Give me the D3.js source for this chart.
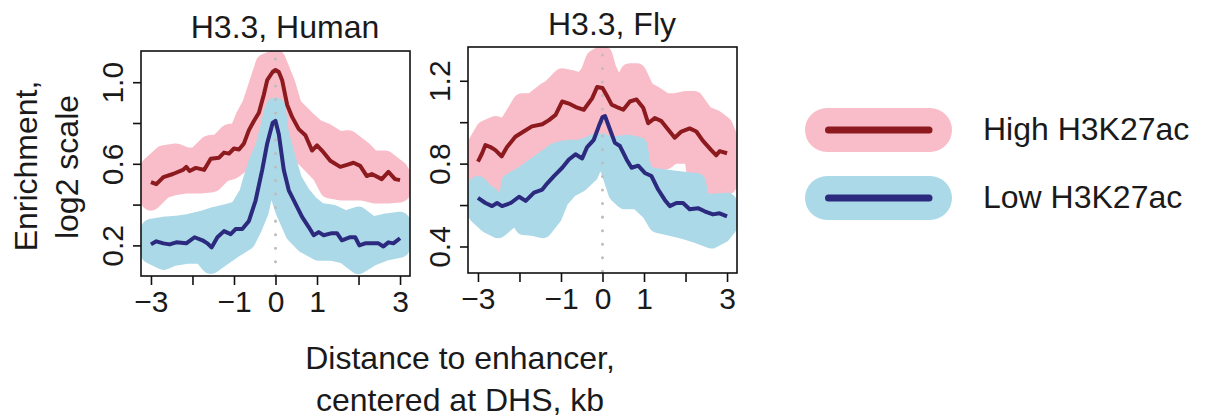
<!DOCTYPE html>
<html>
<head>
<meta charset="utf-8">
<script src="https://cdn.jsdelivr.net/npm/d3@7"></script>
<style>
    html, body { margin: 0; padding: 0; background: #fff; }
    svg text { font-family: "Liberation Sans", Arial, Helvetica, sans-serif; fill: #1a1a1a; }
</style>
</head>
<body>
<svg id="chart" width="1207" height="417"></svg>
<script>
// x axis (kb from DHS centre)
var xTicks = [-3, -2, -1, 0, 1, 2, 3];
var xTickLabels = ['\u22123', '', '\u22121', '0', '1', '', '3'];

// Human panel
var humanYTicks = [0.2, 0.4, 0.6, 0.8, 1.0];
var humanYLabels = ['0.2', '', '0.6', '', '1.0'];
var humanHigh = [[-3,0.51],[-2.87,0.50],[-2.7,0.535],[-2.47,0.55],[-2.23,0.57],[-2.15,0.585],[-2.07,0.565],[-1.92,0.58],[-1.72,0.57],[-1.56,0.625],[-1.36,0.63],[-1.24,0.655],[-1.12,0.65],[-1.0,0.675],[-0.88,0.67],[-0.76,0.70],[-0.64,0.765],[-0.52,0.81],[-0.40,0.85],[-0.28,0.94],[-0.2,1.01],[-0.07,1.05],[0,1.06],[0.08,1.05],[0.16,1.01],[0.28,0.89],[0.4,0.83],[0.56,0.77],[0.72,0.74],[0.88,0.665],[1.0,0.69],[1.12,0.665],[1.32,0.615],[1.56,0.585],[1.72,0.595],[1.88,0.605],[2.04,0.59],[2.2,0.54],[2.32,0.55],[2.56,0.525],[2.72,0.56],[2.88,0.525],[3,0.52]];
var humanLow = [[-3,0.205],[-2.87,0.22],[-2.7,0.21],[-2.55,0.205],[-2.39,0.215],[-2.15,0.21],[-1.95,0.24],[-1.76,0.225],[-1.64,0.21],[-1.54,0.19],[-1.4,0.24],[-1.24,0.27],[-1.08,0.255],[-0.96,0.28],[-0.8,0.28],[-0.64,0.32],[-0.48,0.42],[-0.32,0.57],[-0.2,0.70],[-0.07,0.80],[0,0.81],[0.08,0.745],[0.2,0.57],[0.32,0.47],[0.48,0.405],[0.64,0.34],[0.8,0.29],[0.92,0.25],[1.04,0.265],[1.16,0.25],[1.36,0.26],[1.48,0.26],[1.6,0.225],[1.8,0.24],[1.92,0.24],[2.02,0.2],[2.16,0.21],[2.32,0.21],[2.48,0.21],[2.6,0.195],[2.72,0.215],[2.84,0.21],[3,0.235]];
var humanHighUpper = [[-3,0.635],[-2.7,0.69],[-2.4,0.70],[-2.15,0.68],[-1.9,0.68],[-1.6,0.74],[-1.36,0.745],[-1.12,0.795],[-0.88,0.80],[-0.72,0.88],[-0.56,0.94],[-0.4,1.04],[-0.24,1.14],[0,1.16],[0.24,1.04],[0.4,0.93],[0.72,0.865],[0.96,0.82],[1.2,0.80],[1.52,0.76],[1.76,0.765],[2.08,0.715],[2.32,0.665],[2.64,0.665],[2.96,0.615],[3,0.60]];
var humanHighLower = [[-3,0.37],[-2.7,0.43],[-2.45,0.445],[-2.15,0.455],[-1.76,0.455],[-1.52,0.46],[-1.28,0.51],[-1.04,0.525],[-0.8,0.56],[-0.64,0.56],[-0.5,0.62],[-0.3,0.75],[0,0.85],[0.24,0.72],[0.5,0.62],[0.72,0.585],[1.12,0.50],[1.3,0.43],[1.6,0.42],[2.1,0.42],[2.4,0.405],[2.7,0.405],[3,0.41]];
var humanLowUpper = [[-3,0.33],[-2.7,0.34],[-2.39,0.345],[-2.07,0.355],[-1.76,0.37],[-1.44,0.39],[-1.12,0.405],[-0.88,0.42],[-0.64,0.50],[-0.55,0.565],[-0.4,0.66],[-0.25,0.73],[-0.12,0.83],[-0.04,0.90],[0,0.925],[0.08,0.80],[0.24,0.68],[0.4,0.57],[0.6,0.50],[0.8,0.45],[1.04,0.41],[1.36,0.40],[1.68,0.37],[2.0,0.39],[2.32,0.34],[2.64,0.355],[3,0.365]];
var humanLowLower = [[-3,0.11],[-2.7,0.08],[-2.45,0.10],[-2.15,0.11],[-1.76,0.11],[-1.56,0.06],[-1.28,0.10],[-0.96,0.145],[-0.72,0.175],[-0.56,0.24],[-0.4,0.32],[-0.24,0.47],[-0.1,0.55],[0,0.47],[0.24,0.32],[0.48,0.21],[0.72,0.16],[1.04,0.125],[1.36,0.125],[1.68,0.11],[2.0,0.06],[2.32,0.10],[2.64,0.125],[3,0.14]];

// Fly panel
var flyYTicks = [0.4, 0.6, 0.8, 1.0, 1.2];
var flyYLabels = ['0.4', '', '0.8', '', '1.2'];
var flyHigh = [[-3,0.81],[-2.9,0.85],[-2.82,0.89],[-2.7,0.88],[-2.58,0.865],[-2.43,0.835],[-2.3,0.88],[-2.1,0.93],[-1.9,0.955],[-1.7,0.98],[-1.45,0.99],[-1.29,1.01],[-1.13,1.035],[-0.97,1.10],[-0.81,1.09],[-0.61,1.07],[-0.45,1.06],[-0.25,1.115],[-0.13,1.17],[0,1.165],[0.1,1.13],[0.22,1.085],[0.38,1.07],[0.5,1.06],[0.66,1.10],[0.82,1.11],[0.98,1.07],[1.1,0.995],[1.26,1.02],[1.42,1.005],[1.58,0.965],[1.74,0.925],[1.9,0.955],[2.1,0.97],[2.26,0.955],[2.42,0.91],[2.62,0.865],[2.74,0.84],[2.82,0.86],[3,0.85]];
var flyLow = [[-3,0.635],[-2.82,0.61],[-2.66,0.595],[-2.54,0.61],[-2.42,0.595],[-2.21,0.61],[-2.01,0.64],[-1.85,0.62],[-1.65,0.66],[-1.45,0.675],[-1.33,0.705],[-1.17,0.74],[-0.97,0.78],[-0.81,0.82],[-0.65,0.845],[-0.49,0.825],[-0.37,0.88],[-0.21,0.915],[-0.09,0.98],[0,1.025],[0.06,1.03],[0.18,0.965],[0.3,0.90],[0.42,0.885],[0.58,0.82],[0.7,0.78],[0.86,0.79],[1.02,0.755],[1.18,0.74],[1.34,0.675],[1.5,0.625],[1.62,0.595],[1.78,0.61],[1.94,0.61],[2.1,0.58],[2.3,0.585],[2.46,0.57],[2.66,0.555],[2.82,0.56],[3,0.545]];
var flyHighUpper = [[-3,0.945],[-2.81,1.01],[-2.57,1.03],[-2.33,1.01],[-2.17,1.06],[-1.93,1.14],[-1.69,1.14],[-1.37,1.19],[-1.21,1.21],[-0.97,1.26],[-0.73,1.25],[-0.49,1.235],[-0.29,1.285],[-0.17,1.35],[0,1.37],[0.1,1.30],[0.3,1.22],[0.5,1.21],[0.66,1.285],[0.82,1.285],[1.02,1.20],[1.2,1.18],[1.5,1.14],[1.75,1.14],[2.0,1.15],[2.2,1.15],[2.45,1.08],[2.7,1.06],[2.9,1.03],[3,0.98]];
var flyHighLower = [[-3,0.68],[-2.8,0.70],[-2.65,0.61],[-2.4,0.60],[-2.3,0.66],[-2.0,0.72],[-1.8,0.76],[-1.6,0.78],[-1.4,0.82],[-1.2,0.86],[-1.0,0.88],[-0.85,0.94],[-0.7,0.90],[-0.5,0.90],[-0.3,0.92],[0,0.93],[0.2,0.90],[0.5,0.90],[0.8,0.86],[1.0,0.77],[1.5,0.77],[1.7,0.80],[2.2,0.80],[2.3,0.66],[2.6,0.65],[3,0.65]];
var flyLowUpper = [[-3,0.74],[-2.85,0.705],[-2.72,0.69],[-2.65,0.60],[-2.3,0.60],[-2.2,0.755],[-1.93,0.785],[-1.69,0.82],[-1.37,0.865],[-1.13,0.90],[-0.97,0.91],[-0.81,0.915],[-0.57,0.915],[-0.33,0.93],[-0.17,0.945],[0,0.945],[0.2,0.92],[0.4,0.935],[0.6,0.94],[0.85,0.93],[0.95,0.80],[1.2,0.78],[1.6,0.77],[2.0,0.76],[2.25,0.755],[2.35,0.66],[2.6,0.655],[3,0.66]];
var flyLowLower = [[-3,0.51],[-2.76,0.465],[-2.52,0.44],[-2.28,0.48],[-2.04,0.51],[-1.88,0.455],[-1.64,0.45],[-1.45,0.44],[-1.21,0.50],[-1.05,0.58],[-0.81,0.635],[-0.57,0.66],[-0.33,0.705],[-0.17,0.785],[0,0.80],[0.14,0.755],[0.38,0.61],[0.54,0.58],[0.86,0.58],[1.18,0.52],[1.34,0.465],[1.66,0.45],[1.98,0.435],[2.3,0.415],[2.62,0.39],[2.86,0.415],[3,0.45]];

var legendLabels = ['High H3K27ac', 'Low H3K27ac'];

var COLORS = {
    high: '#8c1a1e',
    low: '#2b2a7e',
    highBand: '#f8bdc9',
    lowBand: '#acd9e7'
};
var BAND_HW = 10;

var svg = d3.select('#chart');

function drawPanel(p) {
    var x = d3.scaleLinear().domain([-3.24, 3.24]).range([p.left, p.right]);
    var y = d3.scaleLinear().domain(p.yDomain).range([p.bottom, p.top]);

    var clipId = 'clip_' + p.name;
    svg.append('clipPath').attr('id', clipId)
        .append('rect')
        .attr('x', p.left).attr('y', p.top)
        .attr('width', p.right - p.left).attr('height', p.bottom - p.top);

    var g = svg.append('g').attr('clip-path', 'url(#' + clipId + ')');

    // band = polygon of upper/lower edges, pulled in and re-grown with a fat round stroke
    var poly = d3.line().curve(d3.curveLinearClosed);
    function band(upper, lower, color) {
        var pts = upper.map(function(d) { return [x(d[0]), y(d[1]) + BAND_HW]; })
            .concat(lower.slice().reverse().map(function(d) { return [x(d[0]), y(d[1]) - BAND_HW]; }));
        g.append('path')
            .attr('d', poly(pts))
            .attr('fill', color)
            .attr('stroke', color)
            .attr('stroke-width', BAND_HW * 2)
            .attr('stroke-linejoin', 'round');
    }
    band(p.highUpper, p.highLower, COLORS.highBand);
    band(p.lowUpper, p.lowLower, COLORS.lowBand);

    // dotted centre line
    g.append('line')
        .attr('x1', x(0)).attr('x2', x(0))
        .attr('y1', p.top + 8).attr('y2', p.bottom)
        .attr('stroke', '#bdbdbd')
        .attr('stroke-width', 3)
        .attr('stroke-linecap', 'round')
        .attr('stroke-dasharray', '0.01 13.5');

    var line = d3.line()
        .x(function(d) { return x(d[0]); })
        .y(function(d) { return y(d[1]); });
    g.append('path').attr('d', line(p.high)).attr('fill', 'none')
        .attr('stroke', COLORS.high).attr('stroke-width', 4).attr('stroke-linejoin', 'round');
    g.append('path').attr('d', line(p.low)).attr('fill', 'none')
        .attr('stroke', COLORS.low).attr('stroke-width', 4).attr('stroke-linejoin', 'round');

    // box
    svg.append('rect')
        .attr('x', p.left).attr('y', p.top)
        .attr('width', p.right - p.left).attr('height', p.bottom - p.top)
        .attr('fill', 'none').attr('stroke', '#111').attr('stroke-width', 1.6);

    // x axis
    var xAxis = d3.axisBottom(x)
        .tickValues(xTicks)
        .tickSize(9)
        .tickPadding(5.5)
        .tickFormat(function(d, i) { return xTickLabels[i]; });
    var gx = svg.append('g').attr('transform', 'translate(0,' + p.bottom + ')').call(xAxis);
    gx.select('.domain').remove();
    gx.selectAll('line').attr('stroke', '#111').attr('stroke-width', 1.6);
    gx.selectAll('text').attr('font-size', 30).attr('fill', '#1a1a1a')
        .style('font-family', '"Liberation Sans", Arial, Helvetica, sans-serif');

    // y axis, labels turned to read upward
    var yAxis = d3.axisLeft(y)
        .tickValues(p.yTicks)
        .tickSize(8)
        .tickFormat(function(d, i) { return p.yLabels[i]; });
    var gy = svg.append('g').attr('transform', 'translate(' + p.left + ',0)').call(yAxis);
    gy.select('.domain').remove();
    gy.selectAll('line').attr('stroke', '#111').attr('stroke-width', 1.6);
    gy.selectAll('text')
        .attr('x', null).attr('dy', null)
        .attr('transform', 'translate(-18,0) rotate(-90)')
        .attr('text-anchor', 'middle')
        .attr('font-size', 30).attr('fill', '#1a1a1a')
        .style('font-family', '"Liberation Sans", Arial, Helvetica, sans-serif');

    svg.append('text')
        .attr('x', p.titleX).attr('y', p.titleY)
        .attr('text-anchor', 'middle')
        .attr('font-size', 32)
        .text(p.title);
}

drawPanel({
    name: 'human', title: 'H3.3, Human', titleX: 285, titleY: 38,
    left: 141, right: 410, top: 51, bottom: 276,
    yDomain: [0.05, 1.153], yTicks: humanYTicks, yLabels: humanYLabels,
    high: humanHigh, low: humanLow,
    highUpper: humanHighUpper, highLower: humanHighLower,
    lowUpper: humanLowUpper, lowLower: humanLowLower
});

drawPanel({
    name: 'fly', title: 'H3.3, Fly', titleX: 612, titleY: 35,
    left: 468, right: 737, top: 47, bottom: 273,
    yDomain: [0.272, 1.363], yTicks: flyYTicks, yLabels: flyYLabels,
    high: flyHigh, low: flyLow,
    highUpper: flyHighUpper, highLower: flyHighLower,
    lowUpper: flyLowUpper, lowLower: flyLowLower
});

// axis titles
svg.append('text').attr('transform', 'translate(37,166) rotate(-90)')
    .attr('text-anchor', 'middle').attr('font-size', 32).text('Enrichment,');
svg.append('text').attr('transform', 'translate(78,167) rotate(-90)')
    .attr('text-anchor', 'middle').attr('font-size', 32).text('log2 scale');
svg.append('text').attr('x', 460).attr('y', 369)
    .attr('text-anchor', 'middle').attr('font-size', 32).text('Distance to enhancer,');
svg.append('text').attr('x', 460).attr('y', 411)
    .attr('text-anchor', 'middle').attr('font-size', 32).text('centered at DHS, kb');

// legend
var legendItems = [
    { label: legendLabels[0], band: COLORS.highBand, line: COLORS.high, cy: 130, ty: 140 },
    { label: legendLabels[1], band: COLORS.lowBand, line: COLORS.low, cy: 198, ty: 208 }
];
var lg = svg.append('g').selectAll('g').data(legendItems).enter().append('g');
lg.append('rect')
    .attr('x', 805).attr('y', function(d) { return d.cy - 22; })
    .attr('width', 147).attr('height', 44).attr('rx', 22)
    .attr('fill', function(d) { return d.band; });
lg.append('line')
    .attr('x1', 828.5).attr('x2', 929)
    .attr('y1', function(d) { return d.cy; }).attr('y2', function(d) { return d.cy; })
    .attr('stroke', function(d) { return d.line; })
    .attr('stroke-width', 7).attr('stroke-linecap', 'round');
lg.append('text')
    .attr('x', 983).attr('y', function(d) { return d.ty; })
    .attr('font-size', 32)
    .text(function(d) { return d.label; });
</script>
</body>
</html>
